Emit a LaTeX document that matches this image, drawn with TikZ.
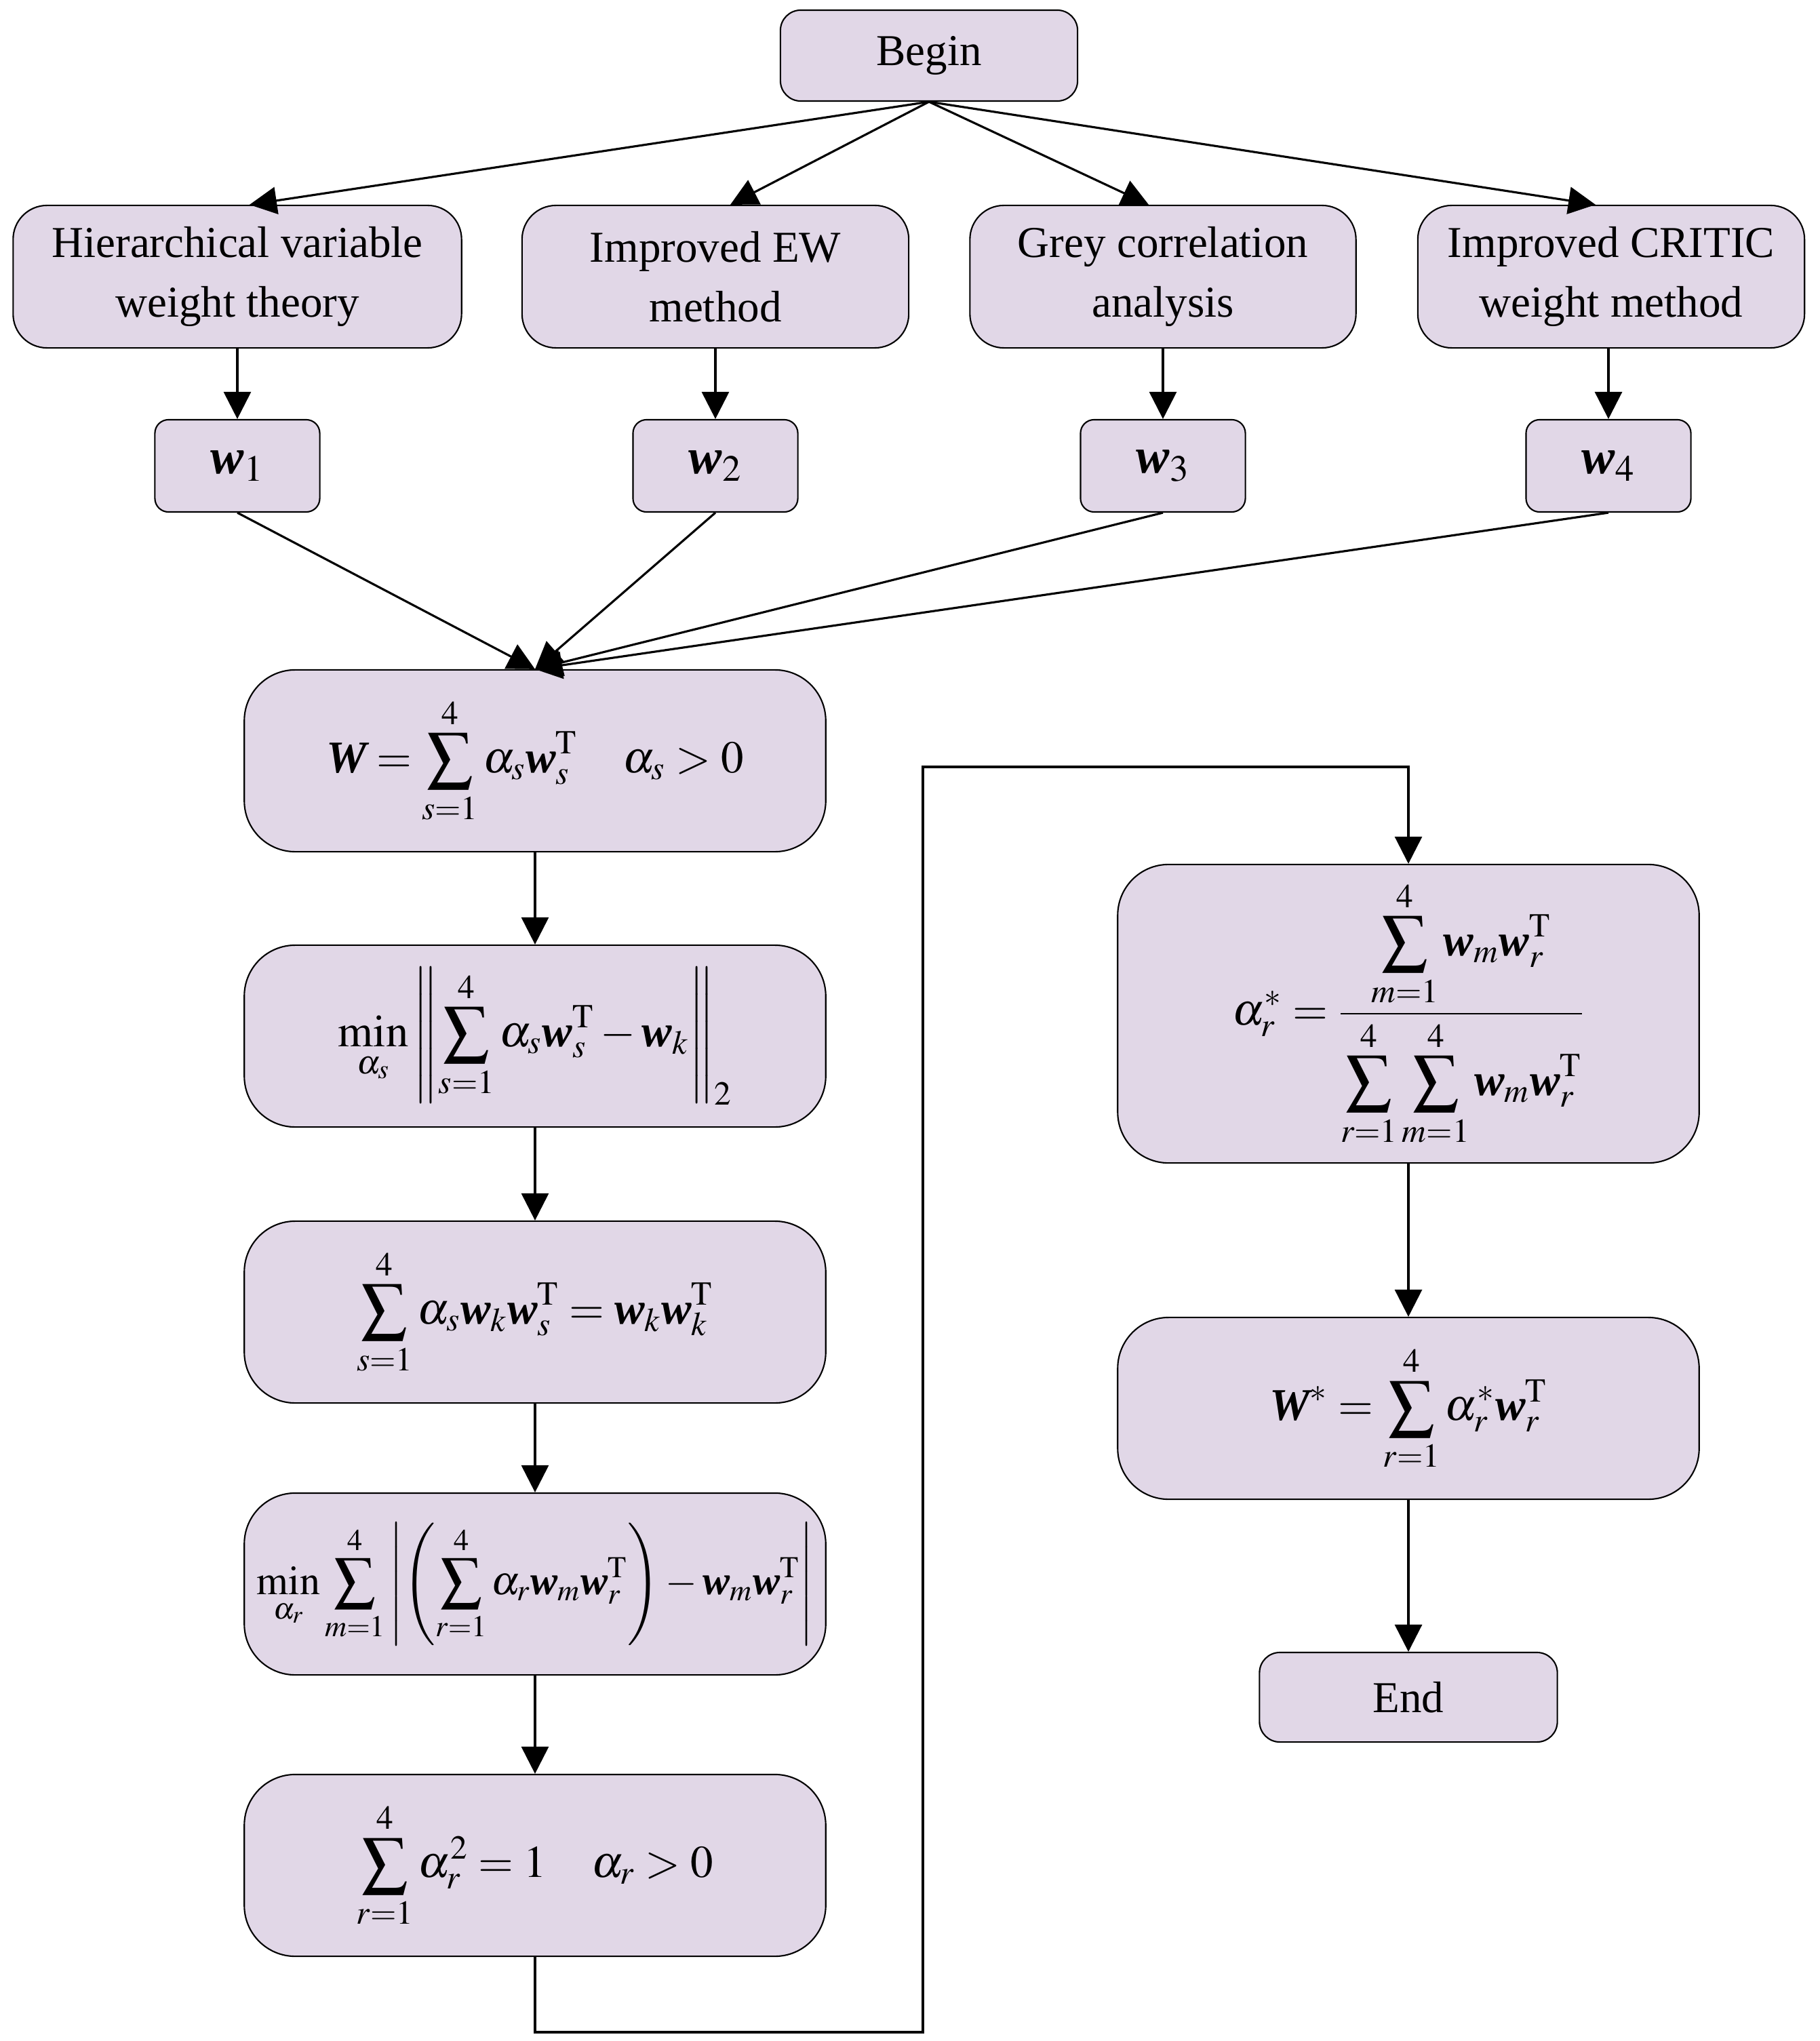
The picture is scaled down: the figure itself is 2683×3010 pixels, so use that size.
\documentclass[tikz,border=0pt]{standalone}
\usepackage{amsmath}
\usepackage{graphicx}
\usepackage{mathptmx}
\usepackage[no-math]{fontspec}
\setmainfont{Liberation Serif}
\usetikzlibrary{arrows.meta,calc}
\definecolor{boxfill}{RGB}{225,215,231}
\newcommand{\bw}{\text{\bfseries\itshape w}}
\newcommand{\bW}{\text{\bfseries\itshape W}}
\newcommand{\tp}{\mathrm{T}}
\begin{document}
\begin{tikzpicture}[x=0.01cm,y=-0.01cm,
  base/.style={draw=black,line width=0.6pt,fill=boxfill,inner sep=0pt,align=center,
    font=\fontsize{18.5}{25}\selectfont},
  smallbox/.style={base,minimum width=4.38cm,minimum height=1.34cm,rounded corners=0.3cm},
  methodbox/.style={base,minimum height=2.1cm,rounded corners=0.5cm},
  wbox/.style={base,minimum width=2.43cm,minimum height=1.36cm,rounded corners=0.2cm,
    font=\fontsize{21}{25}\selectfont},
  fbox/.style={base,minimum width=8.57cm,minimum height=2.68cm,rounded corners=0.75cm,
    font=\fontsize{19}{23}\selectfont},
  arr/.style={line width=0.9pt,-{Triangle[length=0.4cm,width=0.4cm]}}]
\useasboundingbox (0,0) rectangle (2683,3010);
% top
\node[smallbox] (begin) at (1370,82) {\raisebox{-3pt}{Begin}};
\node[methodbox,minimum width=6.61cm] (hier) at (350,408) {Hierarchical variable\\weight theory};
\node[methodbox,minimum width=5.70cm] (ew) at (1055,408) {Improved EW\\method};
\node[methodbox,minimum width=5.69cm] (grey) at (1715,408) {Grey correlation\\analysis};
\node[methodbox,minimum width=5.70cm] (critic) at (2376,408) {Improved CRITIC\\weight method};
\node[wbox] (w1) at (350,687) {$\bw_1$};
\node[wbox] (w2) at (1055,687) {$\bw_2$};
\node[wbox] (w3) at (1715,687) {$\bw_3$};
\node[wbox] (w4) at (2372,687) {$\bw_4$};
% left column
\node[fbox] (W) at (789,1122) {$\displaystyle \bW = \sum_{s=1}^{4}\alpha_s \bw_s^{\tp} \quad \alpha_s > 0$};
\node[fbox] (min1) at (789,1528) {$\displaystyle \min_{\alpha_s}\left\|\sum_{s=1}^{4}\alpha_s\bw_s^{\tp} - \bw_k\right\|_2$};
\node[fbox] (sum1) at (789,1935) {$\displaystyle \sum_{s=1}^{4}\alpha_s\bw_k\bw_s^{\tp} = \bw_k\bw_k^{\tp}$};
\node[fbox] (min2) at (789,2336) {\resizebox{8.2cm}{!}{$\displaystyle \min_{\alpha_r}\sum_{m=1}^{4}\left|\left(\sum_{r=1}^{4}\alpha_r\bw_m\bw_r^{\tp}\right)-\bw_m\bw_r^{\tp}\right|$}};
\node[fbox] (sum2) at (789,2751) {$\displaystyle \sum_{r=1}^{4}\alpha_r^2 = 1\quad \alpha_r>0$};
% right column
\node[fbox,minimum height=4.4cm] (alpha) at (2077,1495) {$\displaystyle \alpha_r^{*} = \frac{\displaystyle\sum_{m=1}^{4}\bw_m\bw_r^{\tp}}{\displaystyle\sum_{r=1}^{4}\sum_{m=1}^{4}\bw_m\bw_r^{\tp}}$};
\node[fbox] (Wstar) at (2077,2077) {$\displaystyle \bW^{*} = \sum_{r=1}^{4}\alpha_r^{*}\bw_r^{\tp}$};
\node[smallbox,minimum width=4.39cm,minimum height=1.32cm] (end) at (2077,2503) {End};
% connectors
\draw[arr] (begin.south) -- ($(hier.north)+(18,0)$);
\draw[arr] (begin.south) -- ($(ew.north)+(22,0)$);
\draw[arr] (begin.south) -- ($(grey.north)+(-21,0)$);
\draw[arr] (begin.south) -- ($(critic.north)+(-23,0)$);
\draw[arr] (hier) -- (w1);
\draw[arr] (ew) -- (w2);
\draw[arr] (grey) -- (w3);
\draw[arr] (critic.south -| w4) -- (w4);
\draw[arr] (w1.south) -- (W.north);
\draw[arr] (w2.south) -- (W.north);
\draw[arr] (w3.south) -- (W.north);
\draw[arr] (w4.south) -- (W.north);
\draw[arr] (W) -- (min1);
\draw[arr] (min1) -- (sum1);
\draw[arr] (sum1) -- (min2);
\draw[arr] (min2) -- (sum2);
\coordinate (c1) at (1361,2997);
\coordinate (c2) at (1361,1131);
\draw[arr] (sum2.south) |- (c1) -- (c2) -| (alpha.north);
\draw[arr] (alpha) -- (Wstar);
\draw[arr] (Wstar) -- (end);
\end{tikzpicture}
\end{document}
